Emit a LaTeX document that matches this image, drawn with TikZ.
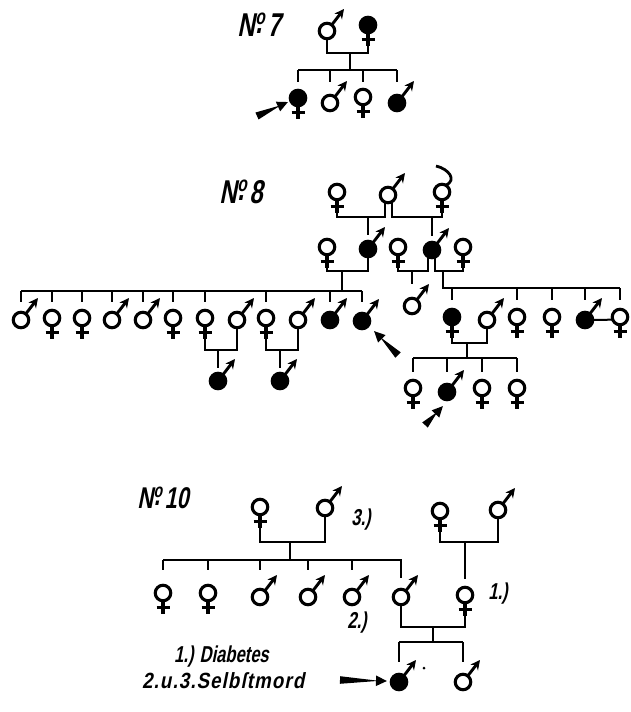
\documentclass[tikz,border=0pt]{standalone}
\usepackage{fontspec}
\usetikzlibrary{calc,arrows.meta}
\newfontfamily\hand{Liberation Sans Bold}[FakeStretch=0.72,FakeSlant=0.2]
\newfontfamily\handw{Liberation Sans Bold}[FakeStretch=0.85,FakeSlant=0.2,LetterSpace=5]
\tikzset{
  ln/.style={line width=2.8pt},
  sym/.style={circle,draw,line width=3.1pt,minimum size=15.5pt,inner sep=0pt,outer sep=0pt},
  aff/.style={fill=black},
  lbl/.style={font=\hand\fontsize{23}{23}\selectfont,inner sep=0pt},
  lblw/.style={font=\handw\fontsize{22}{22}\selectfont,inner sep=0pt},
  ttl/.style={font=\hand\fontsize{33}{33}\selectfont,inner sep=0pt},
  ttls/.style={font=\hand\fontsize{30}{30}\selectfont,inner sep=0pt},
}
\newcommand\Nr[1]{N\kern.02em\raisebox{.36em}{\scalebox{.65}{o}}\kern-.28em\raisebox{.1em}{.}\kern.16em#1}
\newcommand\Fem[3][]{%
  \node[sym,#1] (#2) at (#3) {};
  \draw[line width=3.1pt] (#2.south) -- ++(0,13) coordinate (#2-b);
  \draw[line width=3.1pt] ($(#2.south)+(-6.5,6.5)$) -- ++(13,0);}
\newcommand\Mal[3][]{%
  \node[sym,#1] (#2) at (#3) {};
  \draw[line width=2.9pt,-{Stealth[length=9.5pt,width=9.5pt]}] (#2.52) -- ($(#2)+(17,-22)$);
  \coordinate (#2-b) at (#2.south);}
\newcommand\Ptr[2]{%
  \fill ($(#1)!3.8pt!90:(#2)$) -- ($(#1)!3.8pt!-90:(#2)$) -- ($(#2)!8pt!(#1)$) -- cycle;
  \draw[line width=2pt,-{Triangle[length=11pt,width=10pt]}] ($(#2)!10pt!(#1)$) -- (#2);}
\begin{document}
\begin{tikzpicture}[x=1pt,y=-1pt]
\useasboundingbox[fill=white] (0,0) rectangle (631,712);

% ---------------- No 7
\node[ttl] (t7) at (259,25) {\Nr{7}};
\Mal{p7a}{327,31}
\Fem[aff]{p7b}{368,25}
\coordinate (j7) at (350,53);
\coordinate (s7) at (350,70);
\coordinate (e7) at (350,82);
\draw[ln] (p7a-b) |- (j7) -| (p7b-b);
\draw[ln] (j7) -- (s7);
\Fem[aff]{c7a}{298,98}
\Mal{c7b}{330,103}
\Fem{c7c}{363,97}
\Mal[aff]{c7d}{397,103}
\draw[ln] (c7a |- s7) -- (c7d |- s7);
\foreach \n in {c7a,c7b,c7c,c7d} \draw[ln] (\n |- s7) -- (\n |- e7);
\coordinate (a7) at (257,116); \coordinate (h7) at (288,102);
\Ptr{a7}{h7}

% ---------------- No 8
\node[ttl] (t8) at (241,192) {\Nr{8}};
\Fem{A}{337,192}
\Mal{B}{388,195}
\Fem{C}{442,192}
\draw[ln] (436,166) .. controls (449,169) and (457,180) .. (C.60);
\coordinate (jAB) at (368,217);
\coordinate (jBC) at (432,217);
\draw[ln] (A-b) |- (jAB) -| ([xshift=-3pt]B-b);
\draw[ln] ([xshift=4pt]B-b) |- (jBC) -| (C-b);
\Fem{F}{327,247}
\Mal[aff]{D}{368,249}
\Fem{G}{398,247}
\Mal[aff]{E}{432,250}
\Fem{H}{463,247}
\draw[ln] (jAB) -- ([yshift=6pt]D.north);
\draw[ln] (jBC) -- ([yshift=6pt]E.north);
\coordinate (jFD) at (342,271);
\coordinate (jGE) at (412,271);
\coordinate (jEH) at (443,271);
\draw[ln] (F-b) |- (jFD) -| (D-b);
\draw[ln] (G-b) |- (jGE) -| ([xshift=-4pt]E-b);
\draw[ln] ([xshift=3pt]E-b) |- (jEH) -| (H-b);
% left sibship
\coordinate (s8) at (342,291);
\coordinate (e8) at (342,302);
\draw[ln] (jFD) -- (s8);
\Mal{k1}{21,320}
\Fem{k2}{52,318}
\Fem{k3}{82,318}
\Mal{k4}{112,320}
\Mal{k5}{143,320}
\Fem{k6}{173,318}
\Fem{k7}{205,318}
\Mal{k8}{237,320}
\Fem{k9}{266,318}
\Mal{k10}{298,320}
\Mal[aff]{k11}{330,320}
\Mal[aff]{k12}{362,321}
\draw[ln] (k1 |- s8) -- (k12 |- s8);
\foreach \n in {k1,k2,k3,k4,k5,k6,k7,k9,k11,k12} \draw[ln] (\n |- s8) -- (\n |- e8);
\coordinate (j78) at (218,350);
\coordinate (j910) at (280,350);
\draw[ln] (k7-b) |- (j78) -| (k8-b);
\draw[ln] (k9-b) |- (j910) -| (k10-b);
\Mal[aff]{g1}{218,381}
\Mal[aff]{g2}{280,381}
\draw[ln] (j78) -- ([yshift=5pt]g1.north);
\draw[ln] (j910) -- ([yshift=5pt]g2.north);
\coordinate (a8) at (398,355); \coordinate (h8) at (374,331);
\Ptr{a8}{h8}
% right part
\Mal{I}{412,306}
\coordinate (eI) at (412,284);
\draw[ln] (jGE) -- (eI);
\coordinate (s8r) at (443,288);
\coordinate (e8r) at (443,300);
\Fem[aff]{J}{452,317}
\Mal{K}{487,320}
\Fem{L}{517,317}
\Fem{M}{552,317}
\Mal[aff]{N}{585,320}
\Fem{O}{620,317}
\draw[ln] (jEH) -- (s8r) -- (O |- s8r);
\foreach \n in {J,L,M,N,O} \draw[ln] (\n |- s8r) -- (\n |- e8r);
\draw[line width=2pt] (N.east) -- (O.200);
\coordinate (jJK) at (467,343);
\draw[ln] (J-b) |- (jJK) -| (K-b);
\coordinate (s8q) at (467,358);
\coordinate (e8q) at (467,372);
\draw[ln] (jJK) -- (s8q);
\Fem{P}{413,388}
\Mal[aff]{Q}{447,392}
\Fem{R}{482,388}
\Fem{S}{517,388}
\draw[ln] (P |- s8q) -- (S |- s8q);
\foreach \n in {P,Q,R,S} \draw[ln] (\n |- s8q) -- (\n |- e8q);
\coordinate (a8q) at (425,425); \coordinate (h8q) at (443,406);
\Ptr{a8q}{h8q}

% ---------------- No 10
\node[ttls] (t10) at (163,498) {\Nr{10}};
\Fem{T}{260,507}
\Mal{U}{325,508}
\node[lbl] (n3) at (361,520) {3.)};
\coordinate (jTU) at (290,542);
\draw[ln] (T-b) |- (jTU) -| (U-b);
\coordinate (s10) at (290,560);
\coordinate (e10) at (290,570);
\draw[ln] (jTU) -- (s10);
\Fem{v1}{163,593}
\Fem{v2}{208,593}
\Mal{v3}{260,597}
\Mal{v4}{308,597}
\Mal{v5}{352,597}
\Mal{V}{401,597}
\coordinate (eV) at (401,578);
\draw[ln] (v1 |- s10) -- (V |- s10) -- (eV);
\foreach \n in {v1,v2,v3,v4,v5} \draw[ln] (\n |- s10) -- (\n |- e10);
\node[lbl] (n2) at (357,623) {2.)};
\Fem{W}{440,511}
\Mal{X}{498,510}
\coordinate (jWX) at (465,542);
\draw[ln] (W-b) |- (jWX) -| (X-b);
\Fem{Y}{465,595}
\draw[ln] (jWX) -- ([yshift=8pt]Y.north);
\node[lbl] (n1) at (498,594) {1.)};
\coordinate (jVY) at (433,627);
\draw[ln] (V-b) |- (jVY) -| (Y-b);
\coordinate (s10b) at (433,642);
\coordinate (e10b) at (433,662);
\draw[ln] (jVY) -- (s10b);
\Mal[aff]{Z}{399,682}
\Mal{AA}{463,682}
\draw[ln] (Z |- s10b) -- (AA |- s10b);
\foreach \n in {Z,AA} \draw[ln] (\n |- s10b) -- (\n |- e10b);
\fill (424,668) circle (1.5);
\coordinate (a10) at (340,680); \coordinate (h10) at (387,681);
\Ptr{a10}{h10}
\node[lbl,anchor=west] (leg1) at (174,657) {1.) Diabetes};
\node[lblw,anchor=west] (leg2) at (142,681) {2.u.3.Selbſtmord};
\end{tikzpicture}
\end{document}
